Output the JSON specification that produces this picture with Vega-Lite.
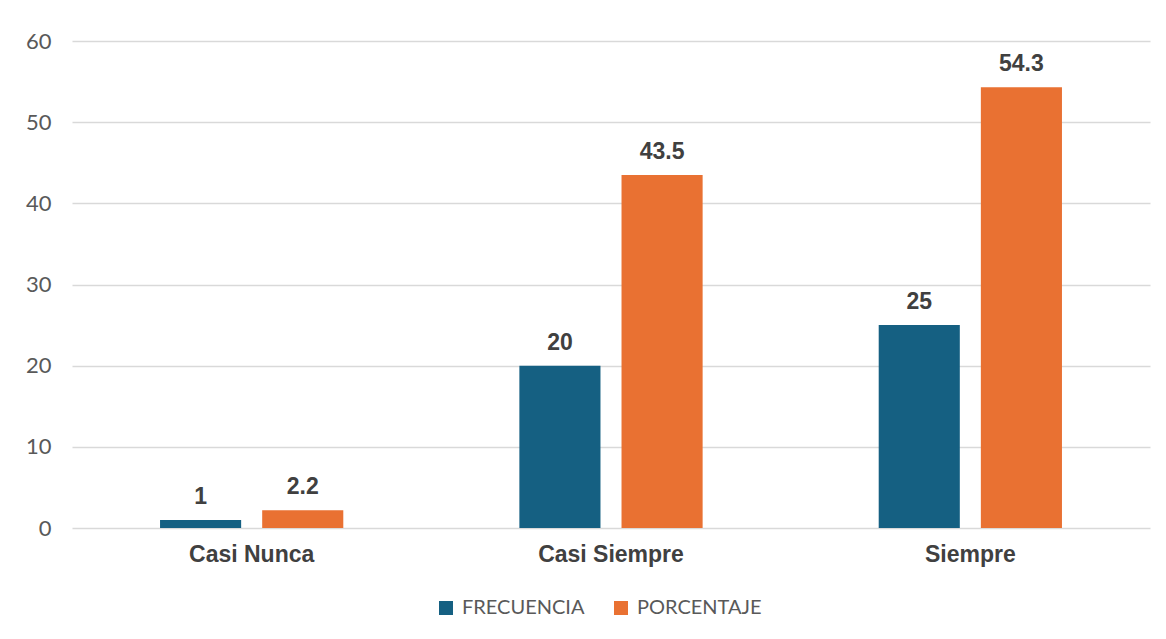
{
  "$schema": "https://vega.github.io/schema/vega-lite/v6.json",
  "width": 1078,
  "height": 487,
  "autosize": {"type": "none"},
  "padding": {"left": 72, "top": 41, "right": 16, "bottom": 111},
  "background": "white",
  "config": {"view": {"stroke": null}},
  "data": {
    "values": [
      {"categoria": "Casi Nunca", "serie": "FRECUENCIA", "valor": 1},
      {"categoria": "Casi Nunca", "serie": "PORCENTAJE", "valor": 2.2},
      {"categoria": "Casi Siempre", "serie": "FRECUENCIA", "valor": 20},
      {"categoria": "Casi Siempre", "serie": "PORCENTAJE", "valor": 43.5},
      {"categoria": "Siempre", "serie": "FRECUENCIA", "valor": 25},
      {"categoria": "Siempre", "serie": "PORCENTAJE", "valor": 54.3}
    ]
  },
  "encoding": {
    "x": {
      "field": "categoria", "type": "nominal", "sort": null,
      "scale": {"paddingInner": 0.49, "paddingOuter": 0.245},
      "axis": {
        "title": null, "labelAngle": 0, "domain": false, "ticks": false,
        "labelFont": "Liberation Sans", "labelFontWeight": "bold", "labelFontSize": 23,
        "labelColor": "#404040", "labelPadding": 15
      }
    },
    "xOffset": {"field": "serie", "type": "nominal", "scale": {"paddingInner": 0.206, "paddingOuter": 0}},
    "y": {
      "field": "valor", "type": "quantitative",
      "scale": {"domain": [0, 60]},
      "axis": {
        "title": null, "values": [0, 10, 20, 30, 40, 50, 60],
        "domain": false, "ticks": false, "gridColor": "#D9D9D9", "gridWidth": 1.5,
        "labelFont": "Lato", "labelFontSize": 22, "labelColor": "#595959", "labelPadding": 21
      }
    }
  },
  "layer": [
    {
      "mark": {"type": "bar"},
      "encoding": {
        "color": {
          "field": "serie", "type": "nominal",
          "scale": {"domain": ["FRECUENCIA", "PORCENTAJE"], "range": ["#156082", "#E97132"]},
          "legend": {
            "title": null, "orient": "none", "legendX": 364, "legendY": 557, "direction": "horizontal",
            "symbolType": "square", "symbolSize": 196, "symbolStrokeWidth": 0,
            "labelFont": "Lato", "labelFontSize": 20, "labelColor": "#595959",
            "columnPadding": 26, "labelOffset": 6
          }
        }
      }
    },
    {
      "mark": {"type": "text", "baseline": "bottom", "dy": -11, "font": "Liberation Sans", "fontWeight": "bold", "fontSize": 23, "color": "#404040"},
      "encoding": {"text": {"field": "valor", "type": "quantitative"}}
    }
  ]
}
